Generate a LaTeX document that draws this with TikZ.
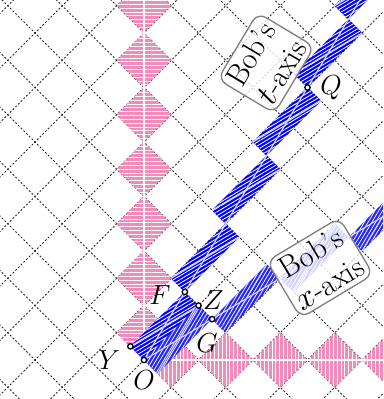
\documentclass[tikz,border=0pt]{standalone}
\usepackage{amsmath,amssymb}
\usepackage{tikz}
\usetikzlibrary{patterns.meta,positioning}
\definecolor{clockpink}{RGB}{240,140,186}

\begin{document}
\begin{tikzpicture}[x=0.5cm,y=0.5cm,
  gridline/.style={black!85,line width=0.5pt,dash pattern=on 1pt off 1pt},
  alicet/.style={preaction={fill=clockpink},pattern={Lines[angle=0,distance=2pt,line width=0.45pt]},pattern color=white},
  alicex/.style={preaction={fill=clockpink},pattern={Lines[angle=90,distance=2pt,line width=0.45pt]},pattern color=white},
  bobt/.style={preaction={fill=blue},pattern={Lines[angle=30.96,distance=1.7pt,line width=0.45pt]},pattern color=white},
  bobx/.style={preaction={fill=blue!85},pattern={Lines[angle=59.04,distance=1.7pt,line width=0.4pt]},pattern color=white},
  aliceline/.style={white,line width=0.9pt},
  bobline/.style={blue!15,line width=0.6pt},
  event/.style={circle,draw=black,fill=white,line width=0.7pt,inner sep=0pt,minimum size=2.8pt},
  evlabel/.style={inner sep=1pt,font=\fontsize{14.5}{17}\selectfont},
  axislabel/.style={draw=gray,line width=0.7pt,rounded corners=5pt,fill=white,fill opacity=0.8,text opacity=1,
    align=center,inner sep=2.4pt,font=\fontsize{16}{18.5}\selectfont}]
\useasboundingbox (-5.284,-1.431) rectangle (8.771,13.211);
\clip (-5.284,-1.431) rectangle (8.771,13.211);
\foreach \k in {-6,...,10} \draw[gridline] (-8,-8+2*\k) -- (16,16+2*\k);
\foreach \k in {-4,...,12} \draw[gridline] (-8,8+2*\k) -- (16,-16+2*\k);
\foreach \n in {0,...,6} \path[alicet] (0,2*\n) -- ++(1,1) -- ++(-1,1) -- ++(-1,-1) -- cycle;
\foreach \n in {0,...,4} \path[alicex] (2*\n,0) -- ++(1,1) -- ++(1,-1) -- ++(-1,-1) -- cycle;
\draw[aliceline] (0,0) -- (0,14);
\draw[aliceline] (0,0) -- (10,0);
\foreach \n in {0,...,5} \path[bobt] (1.5*\n,2.5*\n) -- ++(2,2) -- ++(-0.5,0.5) -- ++(-2,-2) -- cycle;
\foreach \n in {0,...,3} \path[bobx] (2.5*\n,1.5*\n) -- ++(2,2) -- ++(0.5,-0.5) -- ++(-2,-2) -- cycle;
\foreach \n in {0,...,5} {
  \draw[bobline] (1.5*\n,2.5*\n) -- ++(1.5,2.5);
  \draw[bobline] (1.5*\n-0.5,2.5*\n+0.5) -- ++(2.5,1.5);
}
\foreach \n in {0,...,3} {
  \draw[bobline] (2.5*\n,1.5*\n) -- ++(2.5,1.5);
  \draw[bobline] (2.5*\n+0.5,1.5*\n-0.5) -- ++(1.5,2.5);
}
\node[axislabel,rotate=59.04] (tlabel) at (4.48,10.9) {Bob's\\$t$-axis};
\node[axislabel,rotate=30.96] (xlabel) at (6.46,3.38) {Bob's\\$x$-axis};
\node[event] (O) at (0,0) {};
\node[event] (Y) at (-0.5,0.5) {};
\node[event] (F) at (1.5,2.5) {};
\node[event] (Z) at (2,2) {};
\node[event] (G) at (2.5,1.5) {};
\node[event] (Q) at (6,10) {};
\node[evlabel,below=2.5pt of O] (Olab) {$O$};
\node[evlabel,left=2.5pt of Y,yshift=-6.9pt] (Ylab) {$Y$};
\node[evlabel,left=4.5pt of F,yshift=-1.7pt] (Flab) {$F$};
\node[evlabel,right=-0.5pt of Z,yshift=2.9pt] (Zlab) {$Z$};
\node[evlabel,below=4.75pt of G,xshift=-2.7pt] (Glab) {$G$};
\node[evlabel,right=3.75pt of Q] (Qlab) {$Q$};
\end{tikzpicture}
\end{document}
